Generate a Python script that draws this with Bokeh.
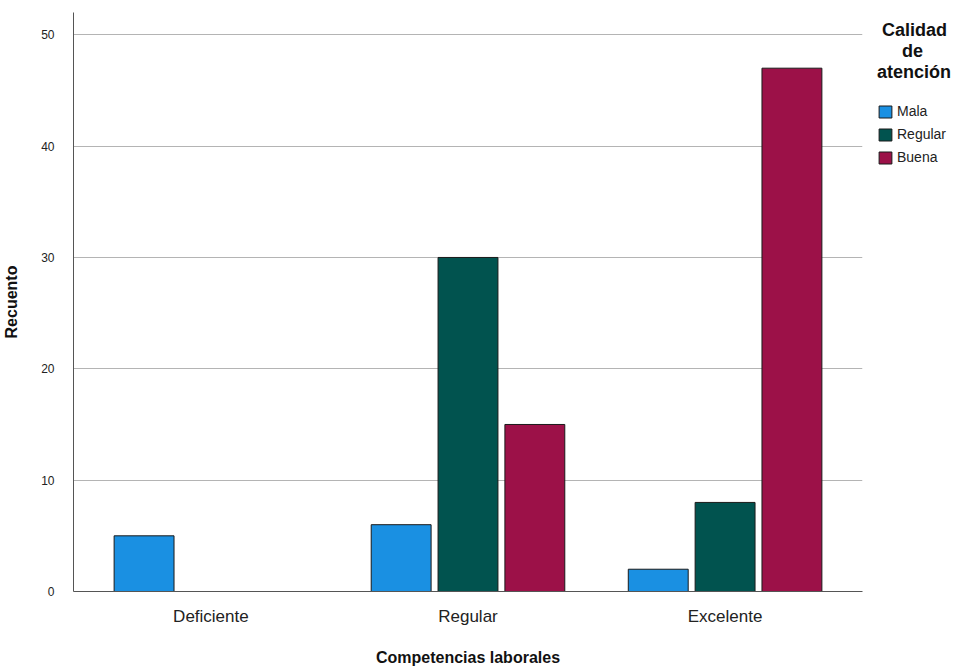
from bokeh.plotting import figure
from bokeh.models import ColumnDataSource, Legend, LegendItem, FixedTicker, Range1d
from bokeh.transform import dodge
from bokeh.embed import file_html
from bokeh.resources import INLINE

categories = ["Deficiente", "Regular", "Excelente"]
series_names = ["Mala", "Regular", "Buena"]
mala = [5, 6, 2]
regular = [0, 30, 8]
buena = [0, 15, 47]
colors = ["#1a90e2", "#01534f", "#9c1148"]
y_ticks = [0, 10, 20, 30, 40, 50]
legend_title = "\u00a0Calidad\n\u00a0\u00a0\u00a0\u00a0\u00a0de\natención"

p = figure(x_range=categories, y_range=Range1d(0, 52),
           frame_width=789, frame_height=579,
           output_backend="svg", toolbar_location=None,
           min_border_left=65, min_border_right=100, min_border_top=12, min_border_bottom=4)

offsets = [-0.26, 0.0, 0.26]
renderers = []
for vals, off, col in zip([mala, regular, buena], offsets, colors):
    xs = [c for c, v in zip(categories, vals) if v > 0]
    ys = [v for v in vals if v > 0]
    src = ColumnDataSource(dict(x=xs, top=ys))
    r = p.vbar(x=dodge("x", off, range=p.x_range), top="top", width=0.233, source=src,
               fill_color=col, line_color="#1a1a1a", line_width=1)
    renderers.append(r)

legend = Legend(items=[LegendItem(label=n, renderers=[r]) for n, r in zip(series_names, renderers)],
                title=legend_title, title_text_font="Liberation Sans",
                title_text_font_style="bold", title_text_font_size="18px", title_text_color="#111111",
                title_text_line_height=1.25, title_standoff=20,
                label_text_font="Liberation Sans", label_text_font_size="14px",
                label_text_color="#222222",
                glyph_width=16, glyph_height=15, label_standoff=4, spacing=7,
                label_height=15, padding=0, margin=0, border_line_color=None,
                background_fill_alpha=0, location=(15, 426))
p.add_layout(legend, "right")

p.xgrid.grid_line_color = None
p.ygrid.grid_line_color = "#b4b4b4"
p.ygrid.grid_line_width = 1
p.yaxis.ticker = FixedTicker(ticks=y_ticks)
p.yaxis.major_tick_line_color = None
p.yaxis.minor_tick_line_color = None
p.xaxis.major_tick_line_color = None
p.yaxis.axis_line_color = "#555555"
p.xaxis.axis_line_color = "#555555"
p.outline_line_color = None

p.yaxis.major_label_text_font = "Liberation Sans"
p.yaxis.major_label_text_font_size = "12px"
p.yaxis.major_label_text_color = "#222222"
p.yaxis.major_label_standoff = 13
p.xaxis.major_label_text_font = "Liberation Sans"
p.xaxis.major_label_text_font_size = "17px"
p.xaxis.major_label_text_color = "#222222"
p.xaxis.major_label_standoff = 9

p.xaxis.axis_label = "Competencias laborales"
p.yaxis.axis_label = "Recuento"
for ax in (p.xaxis[0], p.yaxis[0]):
    ax.axis_label_text_font = "Liberation Sans"
    ax.axis_label_text_font_style = "bold"
    ax.axis_label_text_font_size = "16px"
    ax.axis_label_text_color = "#111111"
p.xaxis.axis_label_standoff = 20
p.yaxis.axis_label_standoff = 18

p.x_range.range_padding = 0.023

open("out.html", "w").write(file_html(p, INLINE))
